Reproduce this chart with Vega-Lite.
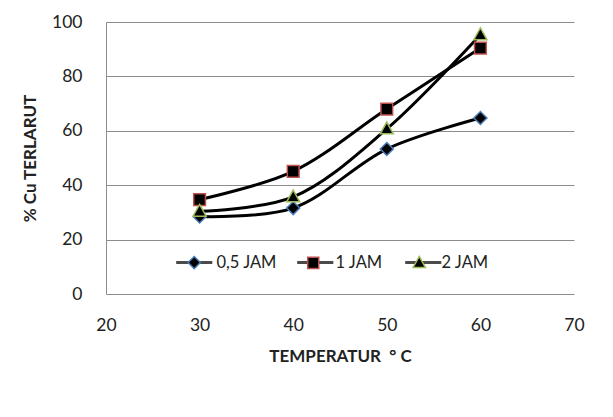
{
  "$schema": "https://vega.github.io/schema/vega-lite/v6.json",
  "width": 468,
  "height": 272,
  "autosize": {"type": "none"},
  "padding": {"left": 106, "top": 22, "right": 39, "bottom": 123},
  "background": "white",
  "config": {"font": "Lato", "view": {"stroke": null}},
  "data": {
    "values": [
      {"series": "0,5 JAM", "temp": 30, "value": 28.5},
      {"series": "0,5 JAM", "temp": 40, "value": 31.6},
      {"series": "0,5 JAM", "temp": 50, "value": 53.3},
      {"series": "0,5 JAM", "temp": 60, "value": 64.7},
      {"series": "1 JAM", "temp": 30, "value": 34.7},
      {"series": "1 JAM", "temp": 40, "value": 45.1},
      {"series": "1 JAM", "temp": 50, "value": 68.0},
      {"series": "1 JAM", "temp": 60, "value": 90.4},
      {"series": "2 JAM", "temp": 30, "value": 30.4},
      {"series": "2 JAM", "temp": 40, "value": 35.7},
      {"series": "2 JAM", "temp": 50, "value": 60.7},
      {"series": "2 JAM", "temp": 60, "value": 95.3}
    ]
  },
  "encoding": {
    "x": {
      "field": "temp", "type": "quantitative",
      "scale": {"domain": [20, 70], "nice": false, "zero": false},
      "axis": {
        "values": [20, 30, 40, 50, 60, 70],
        "title": "TEMPERATUR \u00a0\u00b0 C",
        "grid": false, "ticks": false, "domain": false,
        "labelFontSize": 17.5, "labelPadding": 22, "labelColor": "#222222", "labelFlush": false,
        "titleFontSize": 17, "titleFontWeight": "bold", "titlePadding": 15, "titleColor": "#222222"
      }
    },
    "y": {
      "field": "value", "type": "quantitative",
      "scale": {"domain": [0, 100], "nice": false},
      "axis": {
        "values": [0, 20, 40, 60, 80, 100],
        "title": "% Cu TERLARUT",
        "grid": true, "gridColor": "#8c8c8c", "gridWidth": 1,
        "domain": true, "domainColor": "#8c8c8c", "domainWidth": 1,
        "ticks": false,
        "labelFontSize": 17.5, "labelPadding": 24, "labelColor": "#222222",
        "titleFontSize": 17, "titleFontWeight": "bold", "titlePadding": 12, "titleColor": "#222222"
      }
    }
  },
  "layer": [
    {
      "mark": {"type": "line", "interpolate": "catmull-rom", "color": "black", "strokeWidth": 3},
      "encoding": {"detail": {"field": "series"}}
    },
    {
      "transform": [{"filter": "false"}],
      "mark": {"type": "point", "filled": false, "color": "black", "strokeWidth": 3, "size": 150},
      "encoding": {
        "shape": {
          "field": "series", "type": "nominal",
          "scale": {"domain": ["0,5 JAM", "1 JAM", "2 JAM"], "range": ["M-2.95,0H2.95", "M-2.95,0H2.95", "M-2.95,0H2.95"]},
          "legend": {
            "title": null, "orient": "none", "legendX": 80, "legendY": 232, "direction": "horizontal",
            "symbolSize": 150, "symbolStrokeWidth": 3, "symbolStrokeColor": "black",
            "labelFontSize": 16.5, "labelOffset": 14, "columnPadding": 14, "padding": 0,
            "labelOpacity": 0
          }
        }
      }
    },
    {
      "mark": {"type": "point", "filled": true, "color": "black", "strokeWidth": 1.5, "size": 170, "opacity": 1},
      "encoding": {
        "shape": {
          "field": "series", "type": "nominal",
          "scale": {"domain": ["0,5 JAM", "1 JAM", "2 JAM"], "range": ["M-1,0L0,-1L1,0L0,1ZM-3.07,0M3.07,0", "M-0.9,-0.9H0.9V0.9H-0.9ZM-3.07,0M3.07,0", "M0,-1.05L1,0.75L-1,0.75ZM-3.07,0M3.07,0"]},
          "legend": {
            "title": null, "orient": "none", "legendX": 80, "legendY": 232, "direction": "horizontal",
            "symbolSize": 150, "symbolStrokeWidth": 1.5,
            "labelFontSize": 16.5, "labelOffset": 14, "columnPadding": 14, "padding": 0,
            "labelColor": "#222222"
          }
        },
        "stroke": {
          "field": "series", "type": "nominal",
          "scale": {"domain": ["0,5 JAM", "1 JAM", "2 JAM"], "range": ["#4a7ebb", "#c0504d", "#9bbb59"]},
          "legend": {
            "title": null, "orient": "none", "legendX": 80, "legendY": 232, "direction": "horizontal",
            "symbolSize": 150, "symbolStrokeWidth": 1.5,
            "labelFontSize": 16.5, "labelOffset": 14, "columnPadding": 14, "padding": 0,
            "labelColor": "#222222"
          }
        }
      }
    }
  ],
  "resolve": {"scale": {"shape": "independent", "stroke": "independent"}}
}
